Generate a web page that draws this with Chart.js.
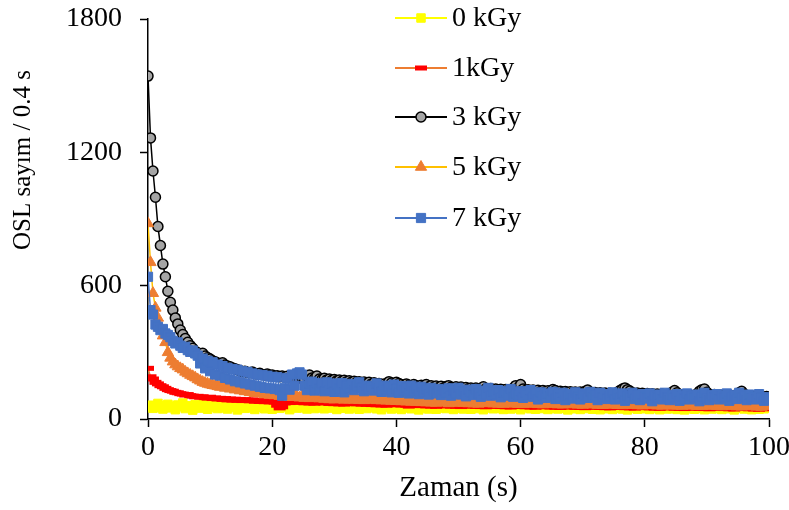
<!DOCTYPE html>
<html>
<head>
<meta charset="utf-8">
<script src="https://cdn.jsdelivr.net/npm/chart.js@4.4.1/dist/chart.umd.min.js"></script>
<style>
  html, body { margin: 0; padding: 0; background: #fff; }
  #wrap { width: 789px; height: 510px; }
</style>
</head>
<body>
<div id="wrap"><canvas id="osl" width="789" height="510"></canvas></div>
<script>
// OSL decay curves, one reading every 0.4 s, 0..100 s
const xTicks = [0, 20, 40, 60, 80, 100];
const yTicks = [0, 600, 1200, 1800];
const names = ["0 kGy", "1kGy", "3 kGy", "5 kGy", "7 kGy"];

const kgy0 = [
  55,62,48,58,70,52,45,60,66,50, 58,42,63,55,72,47,60,53,40,65,
  57,49,68,54,44,61,52,66,47,58, 50,63,45,57,69,52,41,60,55,48,
  64,50,57,43,61,53,67,46,58,51, 44,62,55,48,65,52,58,42,60,54,
  49,63,51,57,45,66,53,47,59,50, 61,46,55,64,49,57,43,60,52,48,
  56,45,62,50,58,44,61,53,47,59, 51,64,46,55,42,60,52,57,45,63,
  48,56,43,61,50,54,46,59,52,41, 57,49,62,45,53,58,44,60,50,55,
  47,59,52,43,61,49,56,45,58,51, 44,60,53,47,57,42,55,50,62,46,
  54,48,59,43,52,57,45,61,49,53, 42,56,50,59,46,53,44,58,51,47,
  55,43,60,49,52,45,57,48,54,41, 58,50,46,56,43,53,59,47,51,44,
  55,49,42,57,50,46,54,43,58,48, 52,45,56,41,53,49,57,44,50,55,
  46,52,43,58,48,54,42,50,56,45, 51,47,55,43,53,49,41,57,46,52,
  44,56,48,53,42,50,55,45,51,47, 54,43,49,57,46,52,41,55,48,50,
  45,53,47,42,56,49,44,52,46,51,48
];
const kgy1 = [
  228,190,180,165,158,150,145,138,132,128, 125,120,118,114,112,108,110,105,103,100,
  102,98,100,96,94,98,92,95,90,93, 88,92,86,90,85,89,84,88,83,87,
  85,82,86,80,84,79,83,78,82,77, 80,76,62,50,55,72,78,74,80,76,
  79,75,78,73,77,72,76,71,75,82, 76,72,75,70,74,69,73,68,72,67,
  71,75,70,74,68,72,67,71,66,70, 65,69,64,68,63,67,62,66,70,65,
  64,68,63,67,62,58,62,66,61,65, 60,64,59,63,58,62,57,61,65,60,
  59,63,58,62,57,61,56,60,64,59, 58,62,57,61,56,60,55,59,63,58,
  57,61,56,60,55,59,54,58,62,57, 56,60,55,59,54,58,53,57,61,56,
  55,59,54,58,53,57,52,56,60,55, 54,58,53,57,52,56,51,55,59,54,
  53,57,52,56,51,55,50,54,58,53, 52,56,51,55,50,54,49,53,57,52,
  51,55,50,54,49,53,48,52,56,51, 50,54,49,53,48,52,47,51,55,50,
  49,53,48,52,47,51,46,50,54,49, 48,52,47,51,46,50,45,49,53,48,
  47,51,46,50,45,49,44,48,52,47,46
];
const kgy3 = [
  1543,1265,1116,998,866,781,697,640,575,525, 490,455,428,400,380,362,345,330,318,305,
  298,290,296,283,276,270,262,258,252,248, 253,243,238,235,230,226,222,218,213,215,
  210,208,212,205,202,206,200,198,203,196, 198,192,195,190,194,188,192,186,190,185,
  188,184,186,180,192,198,185,182,193,180, 178,183,176,180,174,178,172,176,170,174,
  168,172,166,170,165,168,162,166,160,165, 158,163,156,160,155,158,153,168,162,157,
  165,160,155,150,158,152,148,155,150,146, 152,148,155,145,150,143,148,142,147,140,
  146,150,143,140,145,138,144,137,142,136, 140,135,139,134,138,145,136,132,137,131,
  135,130,134,129,133,128,132,138,150,140, 155,135,128,132,126,130,125,129,124,128,
  123,127,122,133,128,121,125,120,124,119, 123,118,122,117,121,116,125,130,120,115,
  119,114,118,113,117,112,116,111,115,120, 128,135,140,132,126,118,113,117,112,116,
  111,115,110,114,109,113,108,112,107,111, 106,120,128,118,110,105,109,104,108,103,
  107,112,125,132,135,120,110,106,110,105, 109,104,108,103,107,102,106,101,118,125,
  112,105,100,104,99,103,98,102,97,101,96
];
const kgy5 = [
  880,705,566,500,455,410,375,345,300,275, 258,245,236,228,222,212,205,198,192,186,
  178,172,166,162,158,155,152,150,147,144, 146,140,142,136,138,132,134,128,130,124,
  126,120,123,116,118,114,116,110,113,108, 110,106,108,103,106,101,104,98,102,108,
  100,96,103,94,98,93,108,102,96,92, 95,90,94,88,92,87,91,98,93,86,
  92,87,91,86,90,85,89,84,96,88, 86,90,84,88,83,87,82,86,81,85,
  80,84,79,83,78,82,77,81,76,80, 75,79,74,78,73,77,72,76,84,78,
  74,70,78,73,77,72,76,71,75,70, 74,69,73,68,72,78,75,70,74,69,
  73,68,72,67,71,76,73,68,72,67, 71,66,70,75,72,67,71,66,70,65,
  69,74,71,66,70,65,69,64,68,73, 70,65,69,64,68,63,67,72,69,64,
  68,63,67,62,66,71,68,63,67,62, 66,61,65,70,67,62,66,61,65,60,
  64,69,66,61,65,60,64,59,68,65, 63,59,64,60,63,58,62,67,64,59,
  63,58,62,57,61,66,63,58,62,57, 61,56,60,65,62,57,61,56,60,55,
  59,64,61,56,60,55,59,54,58,63,60
];
const kgy7 = [
  640,490,470,425,415,400,405,385,378,368, 352,340,345,330,320,325,310,302,308,295,
  285,250,272,228,262,215,255,200,245,195, 238,185,230,178,225,170,222,165,215,160,
  212,155,205,150,200,145,198,140,195,138, 190,135,188,130,105,140,185,132,200,150,
  205,210,200,150,130,160,168,128,162,135, 158,125,165,130,160,122,155,135,162,120,
  152,138,158,130,148,165,140,125,150,135, 145,128,160,138,122,150,132,145,120,155,
  135,118,148,128,140,115,150,125,138,112, 145,120,132,110,140,125,115,135,108,130,
  118,138,105,128,115,140,110,125,102,132, 120,108,135,115,100,128,112,140,105,122,
  110,130,98,118,125,105,135,100,115,108, 125,95,118,108,130,100,112,88,120,105,
  95,115,102,122,90,110,98,118,85,105, 112,92,120,100,88,115,105,95,122,98,
  108,85,118,95,112,90,102,120,88,110, 95,115,82,105,98,118,90,108,85,112,
  100,92,115,80,105,95,110,88,118,98, 85,108,95,112,82,102,90,115,88,105,
  95,110,80,100,118,92,85,108,98,112, 88,102,95,115,82,100,108,90,118,95,
  105,85,110,92,100,88,112,95,82,98,90
];

const time = kgy0.map((_, i) => Math.round(i * 4) / 10);
const pts = (arr) => arr.map((v, i) => ({ x: time[i], y: v }));

const FONT = "'Liberation Serif', 'Times New Roman', serif";

function series(label, data, line, style, radius, fill, stroke, bw, order) {
  return {
    label, data: pts(data), order,
    borderColor: line, borderWidth: 1.5, tension: 0,
    pointStyle: style, pointRadius: radius,
    pointBackgroundColor: fill, pointBorderColor: stroke, pointBorderWidth: bw,
  };
}

// Excel-like legend: line with the marker in the middle, stacked at the top
const legendBox = {
  id: "legendBox",
  afterDraw(chart) {
    const ctx = chart.ctx;
    const rows = [18, 68, 117, 167, 218];
    chart.data.datasets.forEach((d, i) => {
      const y = rows[i];
      ctx.save();
      ctx.strokeStyle = d.borderColor;
      ctx.lineWidth = 2;
      ctx.beginPath();
      ctx.moveTo(395, y);
      ctx.lineTo(447, y);
      ctx.stroke();
      ctx.fillStyle = d.pointBackgroundColor;
      ctx.strokeStyle = d.pointBorderColor;
      ctx.lineWidth = d.pointBorderWidth;
      Chart.helpers.drawPoint(ctx, { pointStyle: d.pointStyle, radius: d.pointRadius, borderWidth: d.pointBorderWidth, rotation: 0 }, 421, y);
      ctx.fillStyle = "#000";
      ctx.font = "28px " + FONT;
      ctx.textAlign = "left";
      ctx.textBaseline = "middle";
      ctx.fillText(names[i], 452, y + 1);
      ctx.restore();
    });
  }
};

// y title sits above the middle of the axis, as in the original
const yTitle = {
  id: "yTitle",
  afterDraw(chart) {
    const ctx = chart.ctx;
    ctx.save();
    ctx.translate(23, 160);
    ctx.rotate(-Math.PI / 2);
    ctx.fillStyle = "#000";
    ctx.font = "25px " + FONT;
    ctx.textAlign = "center";
    ctx.textBaseline = "middle";
    ctx.fillText("OSL sayım / 0.4 s", 0, 0);
    ctx.restore();
  }
};

new Chart(document.getElementById("osl"), {
  type: "line",
  data: {
    datasets: [
      series(names[0], kgy0, "#FFFF00", "rect", 6, "#FFFF00", "#FFFF00", 1, 4),
      series(names[1], kgy1, "#ED7D31", "line", 6, "#FF0000", "#FF0000", 5, 3),
      series(names[2], kgy3, "#000000", "circle", 5, "#A5A5A5", "#000000", 1.5, 2),
      series(names[3], kgy5, "#FFC000", "triangle", 6.5, "#ED7D31", "#ED7D31", 1, 1),
      series(names[4], kgy7, "#4472C4", "rect", 6.5, "#4472C4", "#4472C4", 1, 0),
    ]
  },
  options: {
    responsive: false,
    animation: false,
    devicePixelRatio: 1,
    layout: { padding: { top: 19, right: 20, left: 0, bottom: 0 } },
    plugins: { legend: { display: false }, tooltip: { enabled: false } },
    scales: {
      x: {
        type: "linear", min: 0, max: 100,
        afterBuildTicks: (s) => { s.ticks = xTicks.map(v => ({ value: v })); },
        afterFit: (s) => { s.height = 91; s.paddingLeft = 0; s.paddingRight = 0; },
        border: { display: true, color: "#000", width: 1.5 },
        grid: { display: true, drawOnChartArea: false, drawTicks: true, tickLength: 8, tickColor: "#000", tickWidth: 1.5 },
        ticks: { color: "#000", padding: 4, maxRotation: 0, callback: (v) => String(v), font: { family: FONT, size: 28 } },
        title: { display: true, text: "Zaman (s)", color: "#000", padding: { top: 0, bottom: 4 }, font: { family: FONT, size: 29 } },
      },
      y: {
        min: 0, max: 1800,
        afterBuildTicks: (s) => { s.ticks = yTicks.map(v => ({ value: v })); },
        afterFit: (s) => { s.width = 148; s.paddingTop = 0; s.paddingBottom = 0; },
        border: { display: true, color: "#000", width: 1.5 },
        grid: { display: true, drawOnChartArea: false, drawTicks: true, tickLength: 8, tickColor: "#000", tickWidth: 1.5 },
        ticks: { color: "#000", padding: 18, callback: (v) => String(v), font: { family: FONT, size: 28 } },
      }
    }
  },
  plugins: [legendBox, yTitle]
});
</script>
</body>
</html>
